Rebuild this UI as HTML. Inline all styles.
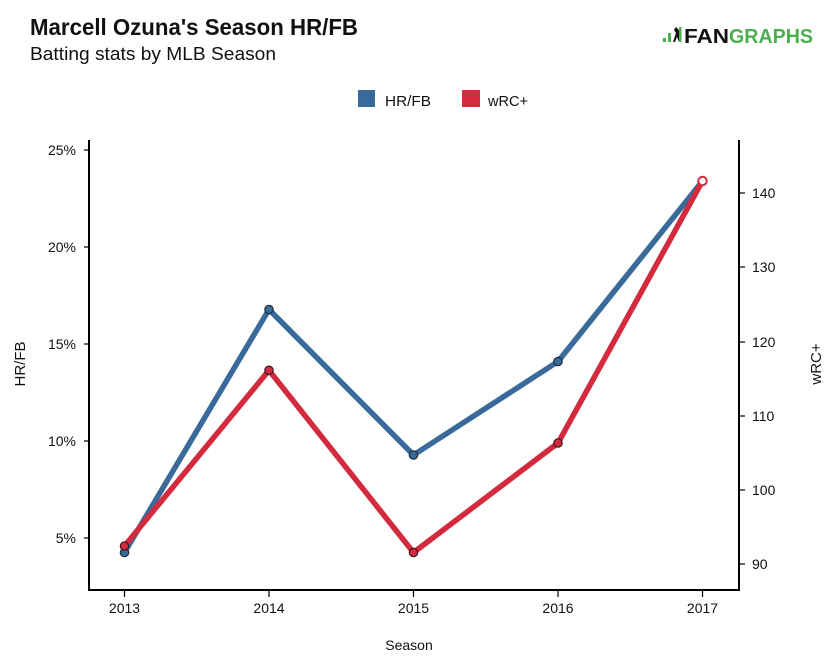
<!DOCTYPE html>
<html>
<head>
<meta charset="utf-8">
<style>
  html, body { margin: 0; padding: 0; background: #ffffff; }
  body { width: 838px; height: 658px; overflow: hidden; }
  svg { display: block; font-family: "Liberation Sans", "DejaVu Sans", sans-serif; }
</style>
</head>
<body>
<svg width="838" height="658" viewBox="0 0 838 658" xmlns="http://www.w3.org/2000/svg">
  <rect x="0" y="0" width="838" height="658" fill="#ffffff"/>

  <!-- Title -->
  <text x="30" y="35" font-size="23" font-weight="bold" fill="#111" textLength="328" lengthAdjust="spacingAndGlyphs">Marcell Ozuna's Season HR/FB</text>
  <text x="30" y="60" font-size="18" fill="#111" textLength="246" lengthAdjust="spacingAndGlyphs">Batting stats by MLB Season</text>

  <!-- FanGraphs logo -->
  <g>
    <rect x="663" y="38" width="3" height="4" fill="#4cae4f"/>
    <rect x="668" y="33" width="3" height="9" fill="#4cae4f"/>
    <path d="M673 42 L676 33 L674 30 L676 27 L678 29 L680 32 L679 36 L681 42 L679 42 L677 37 L675 42 Z" fill="#111"/>
    <rect x="679" y="27" width="2.5" height="15" fill="#4cae4f"/>
    <text x="684" y="43" font-size="20" font-weight="bold" fill="#111" textLength="45" lengthAdjust="spacingAndGlyphs">FAN</text>
    <text x="729" y="43" font-size="20" font-weight="bold" fill="#4cae4f" textLength="84" lengthAdjust="spacingAndGlyphs">GRAPHS</text>
  </g>

  <!-- Legend -->
  <rect x="358" y="90" width="17" height="17" fill="#3a6a99"/>
  <text x="385" y="106" font-size="15" fill="#111" textLength="46" lengthAdjust="spacingAndGlyphs">HR/FB</text>
  <rect x="462" y="90" width="18" height="17" fill="#d42a3e"/>
  <text x="488" y="106" font-size="15" fill="#111" textLength="40" lengthAdjust="spacingAndGlyphs">wRC+</text>

  <!-- Axes -->
  <g stroke="#000" stroke-width="2" fill="none">
    <line x1="89" y1="140" x2="89" y2="591"/>
    <line x1="739" y1="140" x2="739" y2="591"/>
    <line x1="88" y1="590" x2="740" y2="590"/>
  </g>

  <!-- Left ticks -->
  <g stroke="#000" stroke-width="1.2">
    <line x1="84" y1="150" x2="89" y2="150"/>
    <line x1="84" y1="247" x2="89" y2="247"/>
    <line x1="84" y1="344" x2="89" y2="344"/>
    <line x1="84" y1="441" x2="89" y2="441"/>
    <line x1="84" y1="538" x2="89" y2="538"/>
  </g>
  <g font-size="14" fill="#111" text-anchor="end">
    <text x="76" y="155">25%</text>
    <text x="76" y="252">20%</text>
    <text x="76" y="349">15%</text>
    <text x="76" y="446">10%</text>
    <text x="76" y="543">5%</text>
  </g>

  <!-- Right ticks -->
  <g stroke="#000" stroke-width="1.2">
    <line x1="739" y1="193" x2="745" y2="193"/>
    <line x1="739" y1="267" x2="745" y2="267"/>
    <line x1="739" y1="342" x2="745" y2="342"/>
    <line x1="739" y1="416" x2="745" y2="416"/>
    <line x1="739" y1="490" x2="745" y2="490"/>
    <line x1="739" y1="564" x2="745" y2="564"/>
  </g>
  <g font-size="14" fill="#111" text-anchor="start">
    <text x="752" y="198">140</text>
    <text x="752" y="272">130</text>
    <text x="752" y="347">120</text>
    <text x="752" y="421">110</text>
    <text x="752" y="495">100</text>
    <text x="752" y="569">90</text>
  </g>

  <!-- Bottom ticks -->
  <g stroke="#000" stroke-width="1.2">
    <line x1="124.5" y1="590" x2="124.5" y2="597"/>
    <line x1="269" y1="590" x2="269" y2="597"/>
    <line x1="413.5" y1="590" x2="413.5" y2="597"/>
    <line x1="558" y1="590" x2="558" y2="597"/>
    <line x1="702.5" y1="590" x2="702.5" y2="597"/>
  </g>
  <g font-size="14" fill="#111" text-anchor="middle">
    <text x="124.5" y="613">2013</text>
    <text x="269" y="613">2014</text>
    <text x="413.5" y="613">2015</text>
    <text x="558" y="613">2016</text>
    <text x="702.5" y="613">2017</text>
    <text x="409" y="650">Season</text>
  </g>

  <!-- Axis titles -->
  <text transform="translate(25,364) rotate(-90)" font-size="15" fill="#111" text-anchor="middle">HR/FB</text>
  <text transform="translate(821,364) rotate(-90)" font-size="15" fill="#111" text-anchor="middle">wRC+</text>

  <!-- HR/FB series -->
  <polyline points="124.5,552.5 269,309.5 413.5,455 558,361.5 702.5,181" fill="none" stroke="#3a6a99" stroke-width="5.5" stroke-linejoin="round" stroke-linecap="round"/>
  <g fill="#3a6a99" stroke="#1c2b3a" stroke-width="1.2">
    <circle cx="124.5" cy="552.5" r="4.2"/>
    <circle cx="269" cy="309.5" r="4.2"/>
    <circle cx="413.5" cy="455" r="4.2"/>
    <circle cx="558" cy="361.5" r="4.2"/>
  </g>

  <!-- wRC+ series -->
  <polyline points="124.5,546 269,370.3 413.5,552.5 558,443 702.5,181" fill="none" stroke="#d42a3e" stroke-width="5.5" stroke-linejoin="round" stroke-linecap="round"/>
  <g fill="#d42a3e" stroke="#3a1a1e" stroke-width="1.2">
    <circle cx="124.5" cy="546" r="4.2"/>
    <circle cx="269" cy="370.3" r="4.2"/>
    <circle cx="413.5" cy="552.5" r="4.2"/>
    <circle cx="558" cy="443" r="4.2"/>
  </g>
  <circle cx="702.5" cy="181" r="4.2" fill="#ffffff" stroke="#d42a3e" stroke-width="2"/>
</svg>
</body>
</html>
